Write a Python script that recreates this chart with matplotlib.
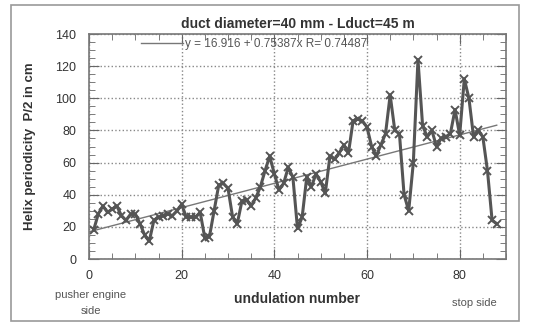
import numpy as np
import matplotlib
matplotlib.use('Agg')
import matplotlib.pyplot as plt
from matplotlib.patches import Rectangle
from matplotlib.ticker import MultipleLocator

plt.rcParams['font.family'] = ['Liberation Sans', 'DejaVu Sans']

# undulation number and measured half periodicity (cm)
undulation = list(range(1, 89))
half_period = [18, 28, 33, 29, 31, 33, 27, 24, 28, 28,
               22, 15, 11, 24, 26, 27, 28, 27, 30, 34,
               26, 26, 26, 29, 13, 14, 30, 46, 47, 44,
               26, 22, 36, 37, 33, 38, 45, 55, 64, 53,
               43, 47, 57, 51, 19, 26, 51, 45, 53, 48,
               41, 64, 62, 66, 71, 66, 86, 87, 86, 82,
               70, 64, 71, 78, 102, 80, 78, 40, 30, 60,
               124, 83, 76, 80, 70, 75, 76, 78, 93, 77,
               112, 100, 76, 80, 76, 55, 24, 22]

# linear fit as printed on the chart
fit_a = 16.916
fit_b = 0.75387
fit_r = 0.74487
fit_x = [0, 88]

gray = '#555555'
txt = '#333333'

fig = plt.figure(figsize=(5.35, 3.23), dpi=100)
fig.patch.set_facecolor('white')
fig.patches.append(Rectangle((11/535, 2/323), 508/535, 316/323, transform=fig.transFigure,
                             fill=False, edgecolor='#999999', linewidth=1.2))

ax = fig.add_axes([89/535, 1 - 259/323, 417/535, 225/323])

fx = np.array(fit_x)
ax.plot(fx, fit_a + fit_b * fx, color='#777777', linewidth=1.0,
        label='y = 16.916 + 0.75387x R= 0.74487')
ax.plot(undulation, half_period, color=gray, linewidth=2.2, marker='x',
        markersize=6, markeredgewidth=1.4, label='_nolegend_')

ax.set_xlim(0, 90)
ax.set_ylim(0, 140)
ax.xaxis.set_major_locator(MultipleLocator(20))
ax.xaxis.set_minor_locator(MultipleLocator(5))
ax.yaxis.set_major_locator(MultipleLocator(20))
ax.yaxis.set_minor_locator(MultipleLocator(5))
ax.tick_params(which='both', direction='in', top=True, right=True, colors='#666666',
               labelcolor=txt, labelsize=9)
ax.tick_params(which='major', length=7)
ax.tick_params(which='minor', length=4)
ax.tick_params(axis='x', pad=8)
ax.tick_params(axis='y', pad=9)
ax.grid(True, which='major', linestyle=':', color='#888888', linewidth=1.0)
for s in ax.spines.values():
    s.set_color('#777777')
    s.set_linewidth(1.2)

ax.set_title('duct diameter=40 mm - Lduct=45 m', fontsize=10, fontweight='bold',
             color=txt, pad=4)
ax.set_ylabel('Helix periodicity  P/2 in cm', fontsize=9.5, fontweight='bold',
              color=txt, labelpad=14)
ax.set_xlabel('undulation number', fontsize=10, fontweight='bold', color=txt, labelpad=7)

ax.legend(loc='upper left', bbox_to_anchor=(0.1, 1.03), frameon=False, fontsize=8.5,
          handlelength=3.5, handletextpad=0.2, labelcolor='#555555')

fig.text(91/535, 1 - 303/323, 'pusher engine\nside', ha='center', va='center',
         fontsize=8, color='#555555', linespacing=1.8)
fig.text(474/535, 1 - 303/323, 'stop side', ha='center', va='center',
         fontsize=8, color='#555555')

fig.savefig('out.png', dpi=100)
